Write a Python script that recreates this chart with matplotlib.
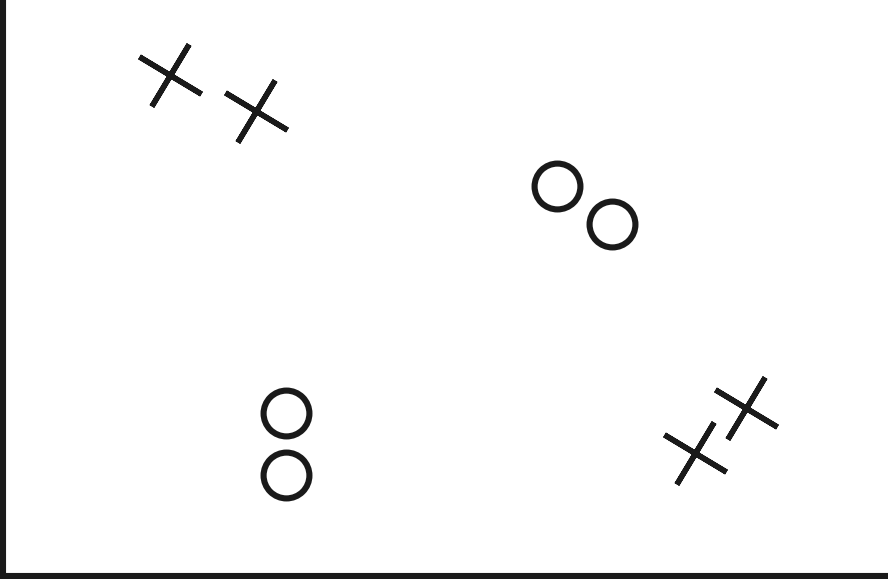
import matplotlib
matplotlib.use("Agg")
import matplotlib.pyplot as plt
from matplotlib.markers import MarkerStyle

# marker centres (axes run 0..10 both ways)
cross_x = [1.89, 2.86, 7.82, 8.40]
cross_y = [8.70, 8.07, 2.13, 2.91]
circle_x = [6.26, 6.88, 3.20, 3.20]
circle_y = [6.77, 6.11, 2.83, 1.75]

ink = "#1a1a1a"

fig = plt.figure(figsize=(8.88, 5.79), dpi=100)
ax = fig.add_axes([3 / 888, 3.5 / 579, 885 / 888, 575.5 / 579])

# tilted plus sign, round ends
cross = MarkerStyle((4, 2, -31), capstyle="round")
ax.plot(cross_x, cross_y, linestyle="none", marker=cross, markersize=52,
        markeredgewidth=3.9, markeredgecolor=ink, clip_on=False)
ax.plot(circle_x, circle_y, linestyle="none", marker="o", markersize=33,
        markerfacecolor="none", markeredgewidth=4.4, markeredgecolor=ink,
        clip_on=False)

ax.set_xlim(0, 10)
ax.set_ylim(0, 10)
ax.set_xticks([])
ax.set_yticks([])
ax.spines["top"].set_visible(False)
ax.spines["right"].set_visible(False)
for s in ["left", "bottom"]:
    ax.spines[s].set_linewidth(4.4)
    ax.spines[s].set_color(ink)
    ax.spines[s].set_capstyle("projecting")

fig.savefig("out.png", dpi=100)
